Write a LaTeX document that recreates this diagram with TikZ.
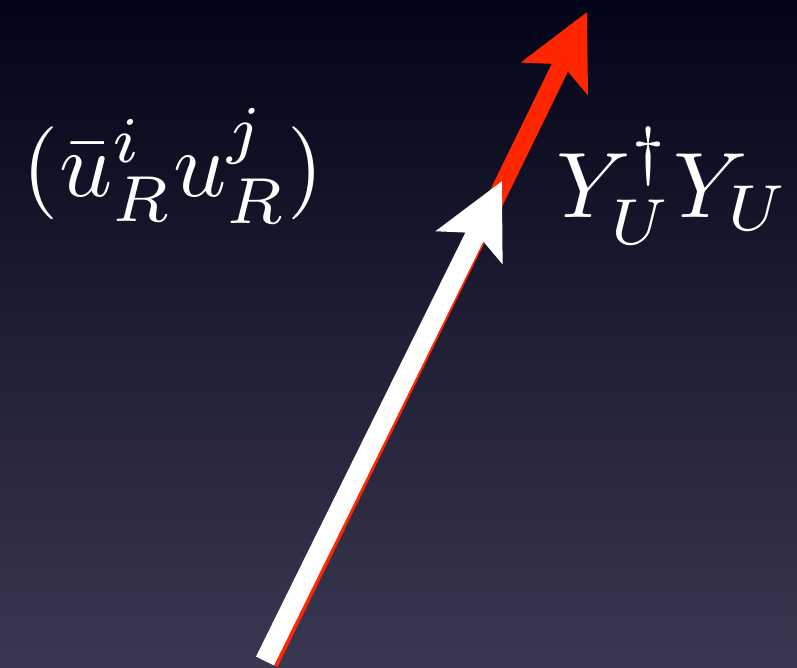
\documentclass[tikz,border=0pt]{standalone}
\usetikzlibrary{arrows.meta}
\begin{document}
\begin{tikzpicture}[x=1pt, y=-1pt, every node/.style={text=white, inner sep=0pt, scale=9.3}]
  \definecolor{bgtop}{RGB}{3,4,24}
  \definecolor{bgmid}{RGB}{30,29,52}
  \definecolor{bgbot}{RGB}{58,56,80}
  \definecolor{flow}{RGB}{255,38,0}
  \tikzset{vec/.style={line width=#1, -{Stealth[length=73pt, width=72pt, inset=15pt]}}}
  % background
  \shade[top color=bgtop, middle color=bgmid, bottom color=bgbot] (0,0) rectangle (797,667);
  \useasboundingbox (0,0) rectangle (797,667);
  % labels
  \node[anchor=base west] (quarks) at (21,196) {$(\bar u^i_R u^j_R)$};
  \node[anchor=base west] (yukawa) at (555,217) {$Y_U^\dagger Y_U$};
  % arrows
  \coordinate (redfoot) at (269.5,663);
  \coordinate (redtip) at (587,12);
  \coordinate (whitefoot) at (265,661);
  \coordinate (whitetip) at (502,181);
  \draw[vec=18pt, flow] (redfoot) -- (redtip);
  \draw[vec=20pt, white] (whitefoot) -- (whitetip);
\end{tikzpicture}
\end{document}
